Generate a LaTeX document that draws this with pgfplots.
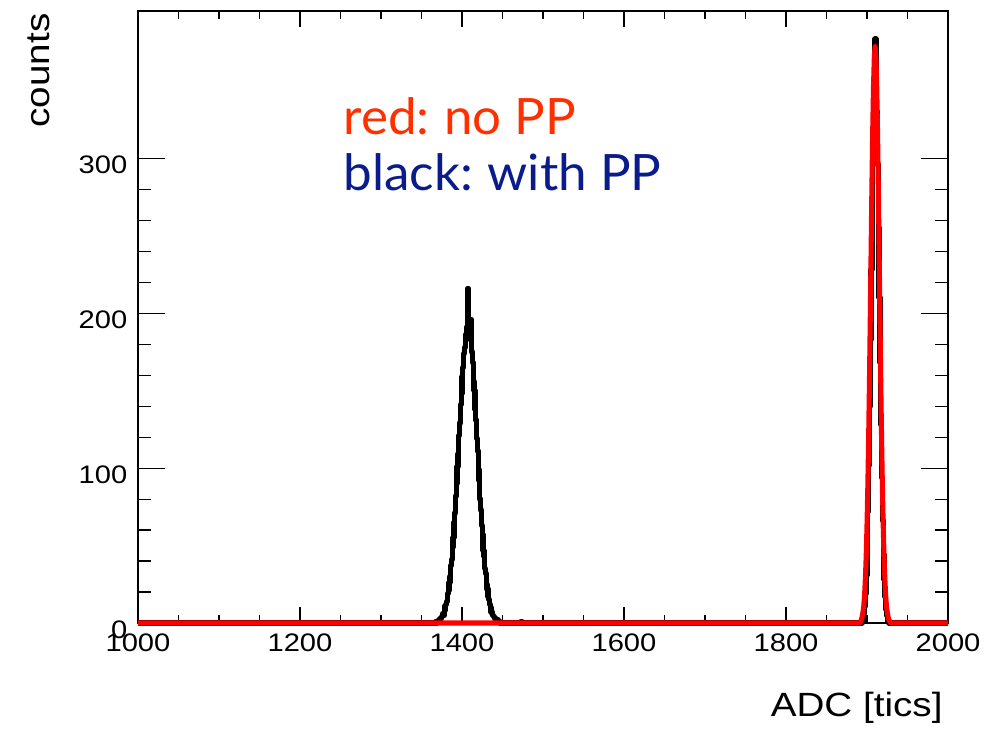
\documentclass[border=0pt]{standalone}
\usepackage{fontspec}
\setmainfont{Liberation Sans}[FakeStretch=1.15]
\newfontfamily\gill{Lato}[FakeStretch=1.02]
\usepackage{pgfplots}
\pgfplotsset{compat=1.18}
\usepackage{pgfplotstable}
\definecolor{notered}{RGB}{255,48,0}
\definecolor{noteblue}{RGB}{10,28,140}

% black: with PP (1 ADC bins)
\pgfplotstableread{
adc counts
1000 0
1366 0
1367 1
1368 0
1369 1
1370 1
1371 2
1372 1
1373 3
1374 3
1375 4
1376 6
1377 5
1378 8
1379 11
1380 12
1381 14
1382 19
1383 21
1384 26
1385 30
1386 37
1387 41
1388 49
1389 55
1390 65
1391 71
1392 82
1393 90
1394 101
1395 109
1396 121
1397 129
1398 141
1399 148
1400 159
1401 165
1402 174
1403 178
1404 186
1405 183
1406 191
1407 216
1408 184
1409 193
1410 186
1411 196
1412 175
1413 168
1414 156
1415 150
1416 138
1417 131
1418 119
1419 111
1420 99
1421 92
1422 80
1423 73
1424 63
1425 57
1426 47
1427 43
1428 35
1429 32
1430 25
1431 22
1432 17
1433 15
1434 12
1435 10
1436 7
1437 6
1438 5
1439 4
1440 3
1441 3
1442 2
1443 1
1444 2
1445 1
1446 1
1447 0
1472 0
1473 1
1474 0
1893 0
1894 1
1895 3
1896 6
1897 11
1898 19
1899 31
1900 48
1901 72
1902 102
1903 140
1904 183
1905 228
1906 272
1907 312
1908 345
1909 368
1910 377
1911 355
1912 330
1913 296
1914 255
1915 210
1916 168
1917 128
1918 94
1919 66
1920 44
1921 28
1922 17
1923 9
1924 5
1925 2
1926 1
1927 0
2000 0
}\withpp

% red: no PP
\pgfplotstableread{
adc counts
1000 0
1891 0
1892 1
1893 2
1894 4
1895 7
1896 11
1897 18
1898 29
1899 43
1900 63
1901 88
1902 119
1903 155
1904 196
1905 238
1906 280
1907 317
1908 346
1909 365
1910 372
1911 365
1912 346
1913 317
1914 280
1915 238
1916 196
1917 155
1918 119
1919 88
1920 63
1921 43
1922 29
1923 18
1924 11
1925 7
1926 4
1927 2
1928 1
1929 0
2000 0
}\nopp

\begin{document}
\begin{tikzpicture}
\useasboundingbox (-51.75pt,-39.75pt) rectangle (317.25pt,233.625pt);

% y ticks (longer) on their own axis
\begin{axis}[
  at={(0,0)}, anchor=south west,
  scale only axis, width=303.75pt, height=229.5pt,
  xmin=1000, xmax=2000, ymin=0, ymax=395,
  hide x axis,
  axis line style={line width=0.6pt},
  ytick={0,100,200,300}, minor y tick num=4,
  tick align=inside, ytick pos=both,
  major tick length=10pt, minor tick length=5pt,
  tick style={line width=0.4pt, black},
  /pgf/number format/assume math mode=true,
  yticklabel style={font=\fontsize{9.5}{11}\selectfont, xshift=-0.5pt, yshift=-2.5pt},
]
\end{axis}

\begin{axis}[
  at={(0,0)}, anchor=south west,
  scale only axis, width=303.75pt, height=229.5pt,
  xmin=1000, xmax=2000, ymin=0, ymax=395,
  ytick=\empty,
  xtick={1000,1200,...,2000}, minor x tick num=3,
  tick align=inside, xtick pos=both,
  major tick length=6pt, minor tick length=3pt,
  axis line style={line width=0.6pt},
  tick style={line width=0.4pt, black},
  /pgf/number format/assume math mode=true,
  /pgf/number format/1000 sep={},
  xticklabel style={font=\fontsize{9.5}{11}\selectfont, yshift=-0.5pt},
  clip=false,
]
\addplot[const plot, black, line width=2pt, line join=round] table[x=adc, y=counts] {\withpp};
\addplot[red, line width=1.9pt, line join=round] table[x=adc, y=counts] {\nopp};

\node[anchor=base west, text=notered, font=\gill\fontsize{18.8}{20}\selectfont, inner sep=0pt]
  at (axis cs:1253,315) {red:\kern-1pt{} no PP};
\node[anchor=base west, text=noteblue, font=\gill\fontsize{18.8}{20}\selectfont, inner sep=0pt]
  at (axis cs:1253,279.4) {black:\kern-1pt{} with PP};
\end{axis}

\node[rotate=90, anchor=base east, inner sep=0pt, font=\fontsize{12.6}{14}\selectfont] at (-33pt,228.75pt) {counts};
\node[anchor=base east, inner sep=0pt, font=\fontsize{12.6}{14}\selectfont] at (301.9pt,-35.25pt) {ADC [tics]};
\end{tikzpicture}
\end{document}
